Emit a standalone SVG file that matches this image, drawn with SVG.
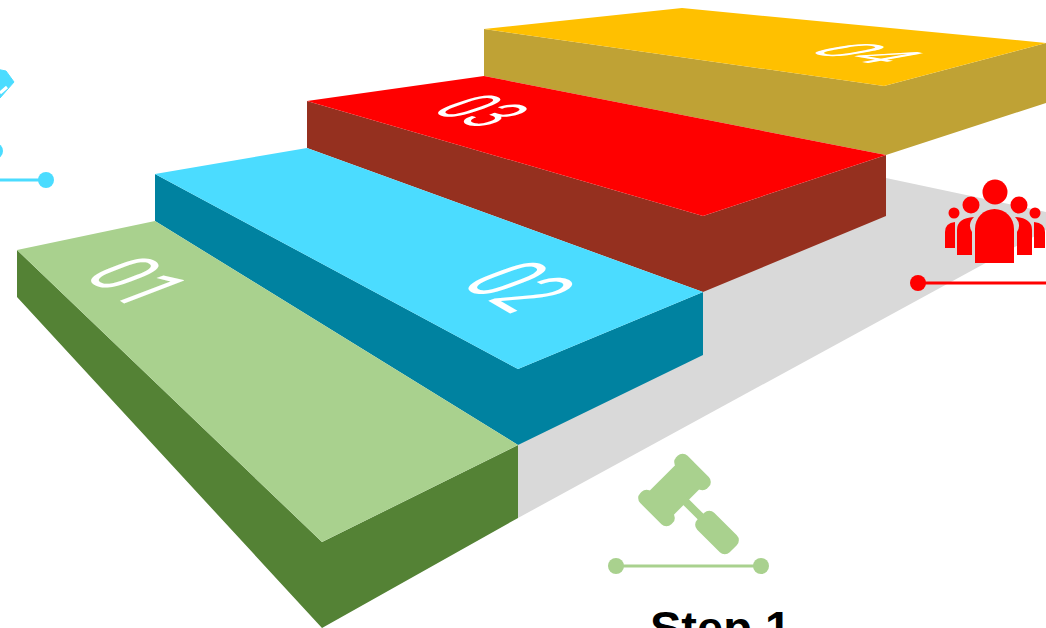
<svg xmlns="http://www.w3.org/2000/svg" width="1046" height="628" viewBox="0 0 1046 628">
<style>
.num{font-family:Roboto,"Liberation Sans",Arial,sans-serif;font-size:100px;fill:#fff}
.g{fill:#A9D18E}.b{fill:#4BDCFF}.r{fill:#FF0000}
</style>
<rect width="1046" height="628" fill="#fff"/>
<g id="floor"><polygon points="518,445 703,292 886,178 1070,217 518,518" fill="#D9D9D9"/></g>
<g id="step4"><polygon points="484,29 484,76 886,155 1046,103 1046,43 884,86" fill="#BFA235"/><polygon points="484,29 682,8 1046,43 884,86" fill="#FFC000"/><text class="num" transform="matrix(.64 .11 -.78 .14 804 52)">04</text></g>
<g id="step3"><polygon points="307,101 307,148 703,292 886,216 886,155 703,216" fill="#95301F"/><polygon points="307,101 484,76 886,155 703,216" fill="#FF0000"/><text class="num" transform="matrix(.47 .165 -.76 .26 429 110.800)">03</text></g>
<g id="step2"><polygon points="155,174 155,221 518,445 703,355 703,292 518,369" fill="#0082A0"/><polygon points="155,174 307,148 703,292 518,369" fill="#4BDCFF"/><text class="num" transform="matrix(.47 .27 -.98 .37 459 284)">02</text></g>
<g id="step1"><polygon points="17,250 17,297 322,628 518,518 518,445 322,542" fill="#548235"/><polygon points="17,250 155,221 518,445 322,542" fill="#A9D18E"/><text class="num" transform="matrix(.46 .3 -.84 .32 82 276)">01</text></g>
<g id="icon-gavel" class="g">
<rect x="-22" y="-8" width="44" height="16" rx="7" transform="translate(692.500 472) rotate(45)"/>
<rect x="-22" y="-8" width="44" height="16" rx="7" transform="translate(656.500 508) rotate(45)"/>
<rect x="-17" y="-20" width="34" height="40" transform="translate(674.500 490) rotate(45)"/>
<rect x="-13" y="-4" width="26" height="8" transform="translate(693 509) rotate(45)"/>
<rect x="-23" y="-12" width="46" height="24" rx="7" transform="translate(717 532.500) rotate(45)"/>
</g>
<g id="icon-people" class="r"><circle cx="995" cy="192" r="12.500"/><circle cx="971" cy="205" r="8.500"/><circle cx="1019" cy="205" r="8.500"/><circle cx="954" cy="213" r="5.500"/><circle cx="1035" cy="213" r="5.500"/>
<path d="M975 263V229a19.500 20 0 0 1 39 0V263Z"/><path d="M957 255V230Q957 218 974 217Q967 224 972 232V255Z M1032 255V230Q1032 218 1015 217Q1022 224 1017 232V255Z"/><path d="M945 248V232Q945 223 955 222V248Z M1045 248V232Q1045 223 1034 222V248Z"/></g>
<g id="icon-blue" class="b"><path d="M-4 69L6 71L14 82L0 98L-4 98Z" stroke="#4BDCFF" stroke-width="1" stroke-linejoin="round"/><path d="M0 93L7 87" stroke="#fff" stroke-width="3" fill="none"/></g>
<g id="connectors"><line x1="616" y1="566" x2="761" y2="566" stroke="#A9D18E" stroke-width="3"/><line x1="918" y1="283" x2="1046" y2="283" stroke="#FF0000" stroke-width="3"/><line x1="0" y1="180" x2="46" y2="180" stroke="#4BDCFF" stroke-width="3"/></g>
<circle class="g" cx="616" cy="566" r="8"/><circle class="g" cx="761" cy="566" r="8"/><circle class="r" cx="918" cy="283" r="8"/><circle class="b" cx="46" cy="180" r="8"/><circle class="b" cx="-5" cy="151" r="8"/>
<text x="650" y="644" font-family="Liberation Sans,Arial,sans-serif" font-weight="700" font-size="47">Step 1</text>
</svg>
